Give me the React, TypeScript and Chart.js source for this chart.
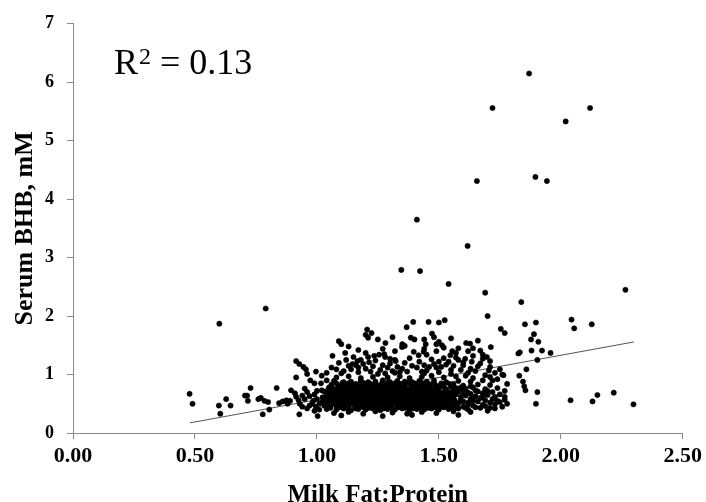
import { useEffect, useRef } from "react";
import { Chart, registerables } from "chart.js";

Chart.register(...registerables);

type P = [number, number];

const FONT = "'Liberation Serif', 'Times New Roman', Times, serif";

const xTitle = "Milk Fat:Protein";
const yTitle = "Serum BHB, mM";
const r2Label = "R";
const r2Sup = "2";
const r2Value = " = 0.13";

const xMin = 0;
const xMax = 2.5;
const xStep = 0.5;
const yMin = 0;
const yMax = 7;
const yStep = 1;

const trendX = [0.48, 2.3];
const trendY = [0.174, 1.558];

const outlierPoints: P[] = [
  [1.87, 6.15], [1.72, 5.56], [2.12, 5.56], [2.02, 5.33], [1.656, 4.31], [1.896, 4.38],
  [1.943, 4.31], [1.41, 3.65], [1.618, 3.2], [1.346, 2.79], [1.423, 2.77], [1.54, 2.55],
  [1.69, 2.4], [1.838, 2.24], [2.265, 2.45], [0.6, 1.87], [0.79, 2.13],
];

const rightPoints: P[] = [
  [1.7, 2.0], [2.044, 1.94], [2.055, 1.79], [2.127, 1.86], [1.853, 1.86], [1.898, 1.89],
  [1.89, 1.69], [1.878, 1.6], [1.908, 1.56], [1.88, 1.41], [1.923, 1.41], [1.958, 1.37],
  [1.904, 1.25], [1.826, 1.36], [1.832, 1.38], [1.859, 1.09], [1.83, 0.98], [1.845, 0.88],
  [1.85, 0.8], [1.855, 0.73], [1.904, 0.7], [1.898, 0.5], [2.04, 0.56], [2.13, 0.54],
  [2.15, 0.65], [2.217, 0.69], [2.298, 0.49], [1.754, 1.78], [1.77, 1.71], [1.713, 1.47],
  [1.67, 1.41], [1.68, 1.34], [1.697, 1.3], [1.6, 1.16], [1.63, 1.1], [1.65, 1.06],
  [1.67, 1.19], [1.71, 1.13], [1.73, 1.03], [1.75, 1.09], [1.74, 0.92], [1.705, 1.07],
  [1.765, 0.99],
];

const leftPoints: P[] = [
  [0.478, 0.67], [0.49, 0.5], [0.598, 0.47], [0.604, 0.33], [0.628, 0.58], [0.646, 0.47],
  [0.705, 0.64], [0.714, 0.64], [0.717, 0.55], [0.728, 0.77], [0.76, 0.58], [0.77, 0.6],
  [0.785, 0.55], [0.8, 0.53], [0.778, 0.32], [0.805, 0.4], [0.835, 0.77], [0.845, 0.51],
  [0.86, 0.54], [0.875, 0.56], [0.88, 0.5], [0.89, 0.55], [0.894, 0.73], [0.91, 0.68],
  [0.915, 0.62], [0.925, 0.56], [0.915, 1.23], [0.928, 1.18], [0.945, 1.13], [0.955, 1.09],
  [0.915, 0.95], [0.94, 0.45], [0.928, 0.32], [0.96, 1.01], [0.973, 0.9], [0.95, 0.76],
  [0.96, 0.7], [0.97, 0.63], [0.985, 0.55], [0.996, 0.45], [0.996, 1.05], [1.003, 0.29],
  [0.99, 0.85], [1.017, 0.85], [1.02, 0.73], [1.023, 0.61], [1.04, 0.9], [1.05, 0.78],
  [1.01, 0.4], [0.98, 0.5], [0.93, 0.5], [0.95, 0.58], [0.97, 0.47], [0.99, 0.66],
  [1.0, 0.58], [1.01, 0.5], [1.0, 0.72], [0.96, 0.42], [0.94, 0.64], [0.99, 0.38],
];

const upperPoints: P[] = [
  [1.064, 1.32], [1.09, 1.57], [1.1, 1.52], [1.116, 1.37], [1.08, 1.09], [1.13, 1.15],
  [1.146, 1.18], [1.166, 1.23], [1.2, 1.68], [1.21, 1.63], [1.224, 1.71], [1.206, 1.77],
  [1.2, 1.37], [1.21, 1.3], [1.214, 1.21], [1.235, 1.32], [1.255, 1.34], [1.276, 1.35],
  [1.281, 1.54], [1.323, 1.23], [1.29, 1.12], [1.31, 1.06], [1.35, 1.52], [1.36, 1.49],
  [1.385, 1.63], [1.4, 1.6], [1.368, 1.81], [1.395, 1.9], [1.458, 1.9], [1.5, 1.89],
  [1.524, 1.93], [1.472, 1.7], [1.48, 1.64], [1.446, 1.52], [1.349, 1.47], [1.397, 1.39],
  [1.417, 1.33], [1.438, 1.39], [1.45, 1.34], [1.49, 1.52], [1.49, 1.4], [1.49, 1.12],
  [1.5, 1.56], [1.513, 1.5], [1.612, 1.54], [1.628, 1.53], [1.547, 1.33], [1.58, 1.25],
  [1.608, 1.27], [1.635, 1.22], [1.5, 1.22], [1.51, 1.13], [1.44, 1.16], [1.46, 1.13],
  [1.28, 1.3], [1.3, 1.27], [1.32, 1.25], [1.18, 1.25], [1.16, 1.16], [1.555, 1.4],
  [1.57, 1.37], [1.62, 1.4], [1.64, 1.32], [1.57, 1.29], [1.6, 1.21], [1.53, 1.17],
  [1.41, 1.12], [1.35, 1.1], [1.26, 1.08], [1.2, 1.1], [1.55, 1.08], [1.45, 1.07],
];

const upperExtra: P[] = [
  [1.02, 0.98], [1.04, 1.03], [1.06, 1.12], [1.09, 1.2], [1.11, 1.06], [1.12, 1.25],
  [1.14, 1.09], [1.15, 1.3], [1.17, 1.12], [1.19, 1.18], [1.22, 1.05], [1.23, 1.14],
  [1.24, 1.24], [1.27, 1.16], [1.28, 1.02], [1.3, 1.19], [1.33, 1.13], [1.34, 1.04],
  [1.36, 1.2], [1.38, 1.28], [1.39, 1.15], [1.42, 1.22], [1.43, 1.05], [1.47, 1.26],
  [1.48, 1.18], [1.52, 1.28], [1.54, 1.22], [1.56, 1.15], [1.59, 1.08], [1.61, 0.98],
  [1.66, 1.14], [1.69, 0.99], [1.72, 0.9], [1.78, 0.84], [1.77, 0.62], [1.78, 0.5],
  [1.58, 1.45], [1.52, 1.46], [1.44, 1.44], [1.32, 1.4], [1.27, 1.44], [1.17, 1.42],
  [1.13, 1.48], [1.25, 1.6], [1.31, 1.64], [1.44, 1.6], [1.55, 1.62], [1.66, 1.58],
  [1.64, 1.45], [1.71, 1.23], [1.68, 1.27],
];

const clusterLow: P[] = [
  [1.07, 0.34], [1.13, 0.36], [1.19, 0.33], [1.24, 0.37], [1.31, 0.35], [1.37, 0.33],
  [1.43, 0.36], [1.49, 0.34], [1.56, 0.37], [1.63, 0.36], [1.7, 0.38], [1.1, 0.3],
  [1.27, 0.29], [1.39, 0.31], [1.58, 0.31],
  [1.04, 0.41], [1.08, 0.4], [1.11, 0.42], [1.14, 0.39], [1.17, 0.41], [1.2, 0.4],
  [1.23, 0.42], [1.26, 0.39], [1.29, 0.41], [1.32, 0.4], [1.35, 0.42], [1.38, 0.39],
  [1.41, 0.41], [1.44, 0.4], [1.47, 0.42], [1.5, 0.4], [1.54, 0.41], [1.58, 0.42],
  [1.62, 0.4], [1.67, 0.43], [1.73, 0.42],
  [1.03, 0.47], [1.055, 0.45], [1.08, 0.46], [1.105, 0.47], [1.13, 0.45], [1.155, 0.46],
  [1.18, 0.47], [1.205, 0.45], [1.23, 0.46], [1.255, 0.47], [1.28, 0.45], [1.305, 0.46],
  [1.33, 0.47], [1.355, 0.45], [1.38, 0.46], [1.405, 0.47], [1.43, 0.45], [1.455, 0.46],
  [1.48, 0.47], [1.505, 0.45], [1.53, 0.46], [1.56, 0.47], [1.6, 0.45], [1.64, 0.47],
  [1.69, 0.46], [1.76, 0.45],
  [1.02, 0.53], [1.045, 0.51], [1.07, 0.52], [1.095, 0.53], [1.12, 0.51], [1.145, 0.52],
  [1.17, 0.53], [1.195, 0.51], [1.22, 0.52], [1.245, 0.53], [1.27, 0.51], [1.295, 0.52],
  [1.32, 0.53], [1.345, 0.51], [1.37, 0.52], [1.395, 0.53], [1.42, 0.51], [1.445, 0.52],
  [1.47, 0.53], [1.495, 0.51], [1.52, 0.52], [1.55, 0.53], [1.58, 0.51], [1.62, 0.52],
  [1.66, 0.54], [1.71, 0.52], [1.75, 0.53],
];

const clusterMid: P[] = [
  [1.03, 0.59], [1.055, 0.57], [1.08, 0.58], [1.105, 0.59], [1.13, 0.57], [1.155, 0.58],
  [1.18, 0.59], [1.205, 0.57], [1.23, 0.58], [1.255, 0.59], [1.28, 0.57], [1.305, 0.58],
  [1.33, 0.59], [1.355, 0.57], [1.38, 0.58], [1.405, 0.59], [1.43, 0.57], [1.455, 0.58],
  [1.48, 0.59], [1.505, 0.57], [1.53, 0.58], [1.56, 0.59], [1.59, 0.57], [1.63, 0.58],
  [1.67, 0.6], [1.72, 0.58], [1.77, 0.57],
  [1.04, 0.65], [1.065, 0.63], [1.09, 0.64], [1.115, 0.65], [1.14, 0.63], [1.165, 0.64],
  [1.19, 0.65], [1.215, 0.63], [1.24, 0.64], [1.265, 0.65], [1.29, 0.63], [1.315, 0.64],
  [1.34, 0.65], [1.365, 0.63], [1.39, 0.64], [1.415, 0.65], [1.44, 0.63], [1.465, 0.64],
  [1.49, 0.65], [1.515, 0.63], [1.54, 0.64], [1.57, 0.66], [1.61, 0.64], [1.65, 0.63],
  [1.7, 0.65], [1.75, 0.66],
  [1.03, 0.71], [1.06, 0.69], [1.085, 0.7], [1.11, 0.71], [1.135, 0.69], [1.16, 0.7],
  [1.185, 0.71], [1.21, 0.69], [1.235, 0.7], [1.26, 0.71], [1.285, 0.69], [1.31, 0.7],
  [1.335, 0.71], [1.36, 0.69], [1.385, 0.7], [1.41, 0.71], [1.435, 0.69], [1.46, 0.7],
  [1.485, 0.71], [1.51, 0.69], [1.54, 0.7], [1.58, 0.71], [1.62, 0.69], [1.66, 0.71],
  [1.72, 0.7], [1.77, 0.72],
  [1.05, 0.77], [1.075, 0.75], [1.1, 0.76], [1.125, 0.77], [1.15, 0.75], [1.175, 0.76],
  [1.2, 0.77], [1.225, 0.75], [1.25, 0.76], [1.275, 0.77], [1.3, 0.75], [1.325, 0.76],
  [1.35, 0.77], [1.375, 0.75], [1.4, 0.76], [1.425, 0.77], [1.45, 0.75], [1.475, 0.76],
  [1.5, 0.77], [1.53, 0.75], [1.57, 0.77], [1.61, 0.76], [1.64, 0.78], [1.69, 0.75],
  [1.74, 0.77],
];

const clusterHigh: P[] = [
  [1.06, 0.83], [1.09, 0.81], [1.12, 0.82], [1.145, 0.83], [1.17, 0.81], [1.2, 0.82],
  [1.225, 0.83], [1.25, 0.81], [1.28, 0.82], [1.305, 0.83], [1.33, 0.81], [1.36, 0.82],
  [1.385, 0.83], [1.41, 0.81], [1.44, 0.82], [1.465, 0.83], [1.49, 0.81], [1.52, 0.82],
  [1.56, 0.84], [1.6, 0.81], [1.66, 0.83], [1.71, 0.82],
  [1.07, 0.89], [1.11, 0.87], [1.14, 0.88], [1.18, 0.89], [1.21, 0.87], [1.24, 0.88],
  [1.27, 0.9], [1.3, 0.87], [1.33, 0.89], [1.36, 0.88], [1.39, 0.87], [1.42, 0.89],
  [1.45, 0.88], [1.48, 0.9], [1.53, 0.87], [1.58, 0.89], [1.63, 0.88], [1.68, 0.9],
  [1.08, 0.95], [1.13, 0.97], [1.18, 0.94], [1.23, 0.96], [1.29, 0.95], [1.34, 0.97],
  [1.38, 0.94], [1.43, 0.96], [1.47, 0.98], [1.52, 0.95], [1.57, 0.97], [1.64, 0.94],
  [1.71, 0.96],
  [1.1, 1.02], [1.17, 1.04], [1.25, 1.01], [1.32, 1.03], [1.37, 1.05], [1.44, 1.02],
  [1.5, 1.04], [1.55, 1.01], [1.62, 1.03], [1.76, 1.0],
];

const coreExtraA: P[] = [
  [1.055, 0.43], [1.095, 0.44], [1.125, 0.43], [1.16, 0.42], [1.19, 0.44], [1.215, 0.43],
  [1.245, 0.44], [1.275, 0.42], [1.305, 0.43], [1.335, 0.44], [1.365, 0.43], [1.395, 0.42],
  [1.425, 0.44], [1.455, 0.43], [1.49, 0.43], [1.52, 0.44], [1.56, 0.42], [1.61, 0.43],
  [1.65, 0.44], [1.71, 0.43],
  [1.04, 0.49], [1.065, 0.5], [1.09, 0.49], [1.115, 0.48], [1.14, 0.5], [1.165, 0.49],
  [1.19, 0.48], [1.215, 0.5], [1.24, 0.49], [1.265, 0.49], [1.29, 0.48], [1.315, 0.5],
  [1.34, 0.49], [1.365, 0.48], [1.39, 0.5], [1.415, 0.49], [1.44, 0.48], [1.465, 0.5],
  [1.49, 0.49], [1.515, 0.49], [1.54, 0.48], [1.57, 0.5], [1.62, 0.49], [1.68, 0.48],
  [1.73, 0.49],
  [1.035, 0.55], [1.06, 0.56], [1.085, 0.55], [1.11, 0.54], [1.135, 0.56], [1.16, 0.55],
  [1.185, 0.55], [1.21, 0.54], [1.235, 0.56], [1.26, 0.55], [1.285, 0.54], [1.31, 0.56],
  [1.335, 0.55], [1.36, 0.55], [1.385, 0.54], [1.41, 0.56], [1.435, 0.55], [1.46, 0.54],
  [1.485, 0.56], [1.51, 0.55], [1.535, 0.55], [1.565, 0.56], [1.6, 0.54], [1.64, 0.55],
  [1.69, 0.56], [1.74, 0.55],
  [1.045, 0.61], [1.07, 0.62], [1.095, 0.61], [1.12, 0.6], [1.145, 0.62], [1.17, 0.61],
  [1.195, 0.61], [1.22, 0.6], [1.245, 0.62], [1.27, 0.61], [1.295, 0.6], [1.32, 0.62],
  [1.345, 0.61], [1.37, 0.61], [1.395, 0.6], [1.42, 0.62], [1.445, 0.61], [1.47, 0.6],
  [1.495, 0.62], [1.52, 0.61], [1.55, 0.61], [1.59, 0.62], [1.64, 0.6], [1.68, 0.61],
  [1.73, 0.62],
];

const coreExtraB: P[] = [
  [1.05, 0.67], [1.075, 0.68], [1.1, 0.67], [1.125, 0.66], [1.15, 0.68], [1.175, 0.67],
  [1.2, 0.66], [1.225, 0.68], [1.25, 0.67], [1.275, 0.67], [1.3, 0.66], [1.325, 0.68],
  [1.35, 0.67], [1.375, 0.66], [1.4, 0.68], [1.425, 0.67], [1.45, 0.67], [1.475, 0.66],
  [1.5, 0.68], [1.525, 0.67], [1.56, 0.68], [1.6, 0.66], [1.63, 0.67], [1.68, 0.68],
  [1.045, 0.73], [1.07, 0.74], [1.095, 0.73], [1.12, 0.72], [1.145, 0.74], [1.17, 0.73],
  [1.195, 0.72], [1.22, 0.74], [1.245, 0.73], [1.27, 0.73], [1.295, 0.72], [1.32, 0.74],
  [1.345, 0.73], [1.37, 0.72], [1.395, 0.74], [1.42, 0.73], [1.445, 0.73], [1.47, 0.72],
  [1.495, 0.74], [1.525, 0.73], [1.56, 0.72], [1.6, 0.74], [1.65, 0.73], [1.7, 0.72],
  [1.06, 0.79], [1.09, 0.8], [1.11, 0.79], [1.135, 0.78], [1.16, 0.8], [1.185, 0.79],
  [1.21, 0.78], [1.24, 0.8], [1.26, 0.79], [1.29, 0.79], [1.315, 0.78], [1.34, 0.8],
  [1.36, 0.79], [1.39, 0.78], [1.415, 0.8], [1.44, 0.79], [1.46, 0.79], [1.49, 0.78],
  [1.515, 0.8], [1.55, 0.79], [1.59, 0.78], [1.63, 0.8],
  [1.08, 0.85], [1.105, 0.86], [1.13, 0.85], [1.16, 0.84], [1.19, 0.86], [1.215, 0.85],
  [1.24, 0.85], [1.265, 0.84], [1.29, 0.86], [1.32, 0.85], [1.345, 0.84], [1.37, 0.86],
  [1.4, 0.85], [1.43, 0.85], [1.455, 0.84], [1.48, 0.86], [1.51, 0.85], [1.545, 0.84],
];

const allPoints: P[] = [
  ...outlierPoints,
  ...rightPoints,
  ...leftPoints,
  ...upperPoints,
  ...upperExtra,
  ...clusterLow,
  ...clusterMid,
  ...clusterHigh,
  ...coreExtraA,
  ...coreExtraB,
];

const r2Plugin = {
  id: "r2Text",
  afterDraw(chart: any) {
    const ctx = chart.ctx as CanvasRenderingContext2D;
    ctx.save();
    ctx.fillStyle = "#000";
    ctx.textBaseline = "alphabetic";
    ctx.textAlign = "left";
    const x0 = 114;
    const base = 74;
    ctx.font = `36px ${FONT}`;
    ctx.fillText(r2Label, x0, base);
    const w1 = ctx.measureText(r2Label).width;
    ctx.font = `24px ${FONT}`;
    ctx.fillText(r2Sup, x0 + w1 + 1, base - 10);
    const w2 = ctx.measureText(r2Sup).width;
    ctx.font = `36px ${FONT}`;
    ctx.fillText(r2Value, x0 + w1 + 1 + w2, base);
    ctx.restore();
  },
};

export default function App() {
  const canvasRef = useRef<HTMLCanvasElement | null>(null);

  useEffect(() => {
    if (!canvasRef.current) return;
    const axisColor = "#8a8a8a";
    const chart = new Chart(canvasRef.current, {
      type: "scatter",
      data: {
        datasets: [
          {
            type: "scatter",
            label: "BHB",
            data: allPoints.map(([x, y]) => ({ x, y })),
            pointRadius: 2.6,
            pointHoverRadius: 2.6,
            pointBackgroundColor: "#000",
            pointBorderColor: "#000",
            pointBorderWidth: 0.6,
            order: 1,
          },
          {
            type: "line",
            label: "Trend",
            data: trendX.map((x, i) => ({ x, y: trendY[i] })),
            borderColor: "#555",
            borderWidth: 1,
            pointRadius: 0,
            fill: false,
            order: 2,
          } as any,
        ],
      },
      options: {
        animation: false,
        responsive: true,
        maintainAspectRatio: false,
        layout: { padding: { top: 19, right: 21, left: 0, bottom: 0 } },
        plugins: {
          legend: { display: false },
          tooltip: { enabled: false },
        },
        scales: {
          x: {
            type: "linear",
            min: xMin,
            max: xMax,
            ticks: {
              stepSize: xStep,
              color: "#000",
              padding: 4,
              font: { family: FONT, size: 22, weight: "bold" },
              callback: (v: any) => Number(v).toFixed(2),
            },
            grid: {
              drawOnChartArea: false,
              drawTicks: true,
              tickLength: 6,
              color: axisColor,
            },
            border: { display: true, color: axisColor },
            title: {
              display: true,
              text: xTitle,
              color: "#000",
              font: { family: FONT, size: 25, weight: "bold", lineHeight: 0.7 },
              padding: { top: 0, bottom: -2 },
            },
            afterFit: (scale: any) => {
              scale.height = 69;
            },
          },
          y: {
            type: "linear",
            min: yMin,
            max: yMax,
            ticks: {
              stepSize: yStep,
              color: "#000",
              padding: 13,
              font: { family: FONT, size: 18, weight: "bold" },
            },
            grid: {
              drawOnChartArea: false,
              drawTicks: true,
              tickLength: 6,
              color: axisColor,
            },
            border: { display: true, color: axisColor },
            title: {
              display: true,
              text: yTitle,
              color: "#000",
              font: { family: FONT, size: 26, weight: "bold" },
              padding: { top: 10, bottom: 0 },
            },
            afterFit: (scale: any) => {
              scale.width = 73;
            },
          },
        },
      },
      plugins: [r2Plugin],
    });
    return () => chart.destroy();
  }, []);

  return (
    <div style={{ position: "fixed", left: 0, top: 0, width: 706, height: 502, background: "#fff" }}>
      <canvas ref={canvasRef} />
    </div>
  );
}
